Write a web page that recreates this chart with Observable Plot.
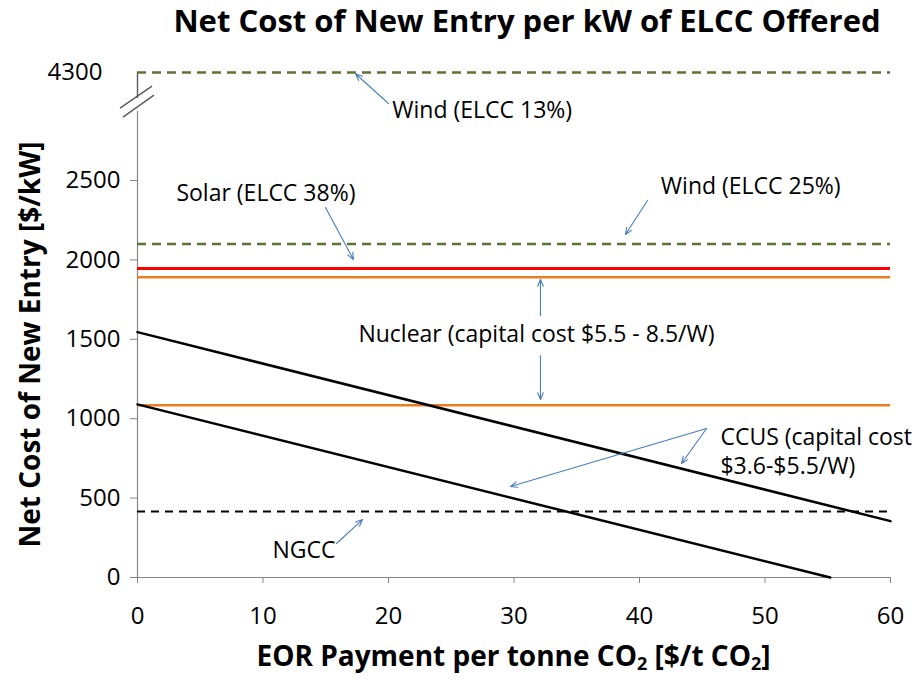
<!DOCTYPE html>
<html><head><meta charset="utf-8">
<script src="https://cdn.jsdelivr.net/npm/d3@7"></script>
<script src="https://cdn.jsdelivr.net/npm/@observablehq/plot@0.6"></script>
<style>body{margin:0;background:#fff;} svg{display:block}</style>
</head><body><div id="chart"></div>
<script>
// ---------- data ----------
const chartTitle = "Net Cost of New Entry per kW of ELCC Offered";
const yLabel = "Net Cost of New Entry [$/kW]";
const xLabelParts = ["EOR Payment per tonne CO", "2", " [$/t CO", "2", "]"];
const xTicks = [0, 10, 20, 30, 40, 50, 60];
const yTicks = [0, 500, 1000, 1500, 2000, 2500];
const brokenTick = 4300;
const xDomain = [0, 60];

// flat reference lines ($/kW)
const flatNames  = ["Wind (ELCC 13%)", "Wind (ELCC 25%)", "Solar (ELCC 38%)", "Nuclear high", "Nuclear low", "NGCC"];
const flatValues = [4300, 2100, 1945, 1890, 1085, 415];

// CCUS lines vs EOR payment
const ccusHighX = [0, 60];
const ccusHighY = [1545, 355];
const ccusLowX  = [0, 55.2];
const ccusLowY  = [1090, 0];

// annotation labels (data coords)
const labelText = ["Wind (ELCC 13%)", "Solar (ELCC 38%)", "Wind (ELCC 25%)", "Nuclear (capital cost $5.5 - 8.5/W)", "CCUS (capital cost", "$3.6-$5.5/W)", "NGCC"];
const labelX = [20.3, 3.1, 41.7, 17.6, 46.45, 46.45, 10.76];
const labelY = [4061, 2418, 2462, 1530, 882, 699, 170];

// annotation arrows (tail -> head, data coords)
const arrowX1 = [20.0, 14.98, 40.64, 32.11, 32.11, 45.34, 45.34, 15.86];
const arrowY1 = [4105, 2330, 2374, 1650, 1398, 938, 938, 214];
const arrowX2 = [17.37, 17.21, 38.88, 32.11, 32.11, 29.72, 43.35, 17.93];
const arrowY2 = [4292, 2002, 2160, 1877, 1121, 573, 718, 365];

// ---------- broken y axis mapping ----------
const breakCut = 3900, breakShift = 1120;
const yDisp = v => v >= breakCut ? v - breakShift : v;
const yTop = yDisp(brokenTick);

// ---------- styles ----------
const olive = "#5E7434", gridGray = "#868686", arrowBlue = "#4A7EBB";
const flatStyle = [
  {stroke: olive, w: 2.6, dash: "9,6"},
  {stroke: olive, w: 2.6, dash: "9,6"},
  {stroke: "#FF0000", w: 3, dash: null},
  {stroke: "#EE7D22", w: 2.5, dash: null},
  {stroke: "#EE7D22", w: 2.5, dash: null},
  {stroke: "#000000", w: 2, dash: "8,6"}
];

const flatMarks = flatValues.map((v, i) => Plot.ruleY([v], {
  y: d => yDisp(d), x1: xDomain[0], x2: xDomain[1],
  stroke: flatStyle[i].stroke, strokeWidth: flatStyle[i].w,
  strokeDasharray: flatStyle[i].dash
}));

const ccusHigh = ccusHighX.map((x, i) => ({x, y: ccusHighY[i]}));
const ccusLow = ccusLowX.map((x, i) => ({x, y: ccusLowY[i]}));
const labels = labelText.map((t, i) => ({t, x: labelX[i], y: labelY[i]}));
const arrows = arrowX1.map((x1, i) => ({x1, y1: arrowY1[i], x2: arrowX2[i], y2: arrowY2[i]}));

const FONT = "'Open Sans', 'Noto Sans', sans-serif";
const TICK_FS = 24;

const plot = Plot.plot({
  width: 912, height: 681,
  marginLeft: 137, marginRight: 22, marginTop: 72, marginBottom: 104,
  x: {domain: xDomain},
  y: {domain: [0, yTop]},
  style: {fontFamily: FONT, background: "#fff", color: "#000", overflow: "visible"},
  marks: [
    // axis lines
    Plot.ruleY([0], {x1: xDomain[0], x2: xDomain[1], stroke: gridGray, strokeWidth: 1.2}),
    Plot.ruleX([0], {y1: 0, y2: 2934, stroke: gridGray, strokeWidth: 1.2}),
    Plot.ruleX([0], {y1: yDisp(4136), y2: yTop, stroke: "#595959", strokeWidth: 1.4}),
    Plot.axisX({ticks: xTicks, tickSize: 6, tickPadding: 23, fontSize: TICK_FS, stroke: gridGray, fill: "#000", label: null, tickFormat: d => String(d)}),
    Plot.axisY({ticks: yTicks, tickSize: 7, tickPadding: 10, fontSize: TICK_FS, stroke: gridGray, fill: "#000", label: null, tickFormat: d => String(d)}),
    Plot.text([brokenTick], {x: 0, y: d => yDisp(d), text: d => String(d), dx: -35, textAnchor: "end", fontSize: TICK_FS, fill: "#000"}),
    // data
    ...flatMarks,
    Plot.line(ccusHigh, {x: "x", y: "y", stroke: "#000", strokeWidth: 2.5}),
    Plot.line(ccusLow, {x: "x", y: "y", stroke: "#000", strokeWidth: 2.5}),
    // annotations
    Plot.arrow(arrows, {x1: "x1", y1: d => yDisp(d.y1), x2: "x2", y2: d => yDisp(d.y2),
      stroke: arrowBlue, strokeWidth: 1.1, headLength: 10, headAngle: 45}),
    Plot.text(labels, {x: "x", y: d => yDisp(d.y), text: "t", textAnchor: "start", fontSize: 23, fill: "#000"}),
    // title
    Plot.text([chartTitle], {frameAnchor: "top", lineAnchor: "middle", dy: -50, dx: 13, text: d => d, fontSize: 31, fontWeight: "bold", fill: "#000"})
  ]
});

document.getElementById("chart").appendChild(plot);

// axis break marks and axis titles (subscripts need tspans)
const sx = plot.scale("x"), sy = plot.scale("y");
const svg = d3.select(plot);
const ax = sx.apply(0), by = sy.apply(2990);
[[-17, 6, 15, -16], [-14, 15, 17, -7]].forEach(([dx1, dy1, dx2, dy2]) => {
  svg.append("line").attr("x1", ax + dx1).attr("y1", by + dy1).attr("x2", ax + dx2).attr("y2", by + dy2)
    .attr("stroke", "#595959").attr("stroke-width", 1.4);
});
const xl = svg.append("text")
  .attr("x", sx.apply((xDomain[0] + xDomain[1]) / 2))
  .attr("y", 666)
  .attr("text-anchor", "middle")
  .attr("font-family", FONT).attr("font-size", 28).attr("font-weight", "bold").attr("fill", "#000");
xLabelParts.forEach((p, i) => {
  const t = xl.append("tspan").text(p);
  if (i % 2 === 1) t.attr("font-size", 18).attr("dy", 4);
  else if (i > 0) t.attr("dy", -4);
});
svg.append("text")
  .attr("transform", `translate(33, ${(sy.apply(0) + sy.apply(yTop)) / 2 + 20}) rotate(-90)`)
  .attr("text-anchor", "middle").attr("dominant-baseline", "middle")
  .attr("font-family", FONT).attr("font-size", 28).attr("font-weight", "bold").attr("fill", "#000")
  .text(yLabel);
</script></body></html>
